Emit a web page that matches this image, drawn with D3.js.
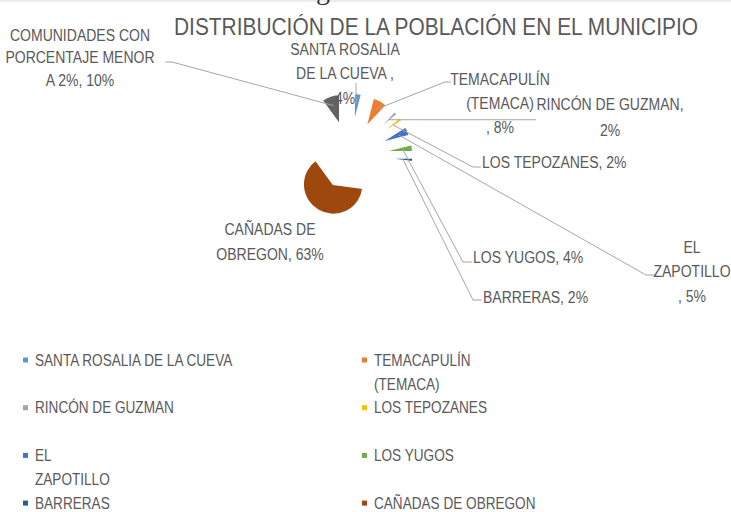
<!DOCTYPE html>
<html>
<head>
<meta charset="utf-8">
<script src="https://cdn.jsdelivr.net/npm/d3@7"></script>
<style>
  body { margin: 0; background: #fff; }
  svg text { font-family: "Liberation Sans", Arial, sans-serif; fill: #595959; }
</style>
</head>
<body>
<div id="pie"></div>
<script>
// data
var categories = [
  "SANTA ROSALIA DE LA CUEVA",
  "TEMACAPULÍN (TEMACA)",
  "RINCÓN DE GUZMAN",
  "LOS TEPOZANES",
  "EL ZAPOTILLO",
  "LOS YUGOS",
  "BARRERAS",
  "CAÑADAS DE OBREGON",
  "COMUNIDADES CON PORCENTAJE MENOR A 2%"
];
var values = [4, 8, 2, 2, 5, 4, 2, 63, 10];
var colors = ["#5b9bd5", "#ed7d31", "#a5a5a5", "#ffc000", "#4472c4", "#70ad47", "#255e91", "#9e480e", "#636363"];

// data label lines (as the chart wraps them)
var labelLines = [
  ["SANTA ROSALIA", "DE LA CUEVA ,", "4%"],
  ["TEMACAPULÍN", "(TEMACA)", ", 8%"],
  ["RINCÓN DE GUZMAN,", "2%"],
  ["LOS TEPOZANES, 2%"],
  ["EL", "ZAPOTILLO", ", 5%"],
  ["LOS YUGOS, 4%"],
  ["BARRERAS, 2%"],
  ["CAÑADAS DE", "OBREGON, 63%"],
  ["COMUNIDADES CON", "PORCENTAJE MENOR", "A 2%, 10%"]
];

// legend entries (wrapped like the picture)
var legendLines = [
  ["SANTA ROSALIA DE LA CUEVA"],
  ["TEMACAPULÍN", "(TEMACA)"],
  ["RINCÓN DE GUZMAN"],
  ["LOS TEPOZANES"],
  ["EL", "ZAPOTILLO"],
  ["LOS YUGOS"],
  ["BARRERAS"],
  ["CAÑADAS DE OBREGON"]
];

var svgWidth = 731;
var svgHeight = 512;
// no narrow font installed, so squeeze the text sideways
var squeeze = 0.85;

var svg = d3
  .select("#pie")
  .append("svg")
  .attr("width", svgWidth)
  .attr("height", svgHeight);

// one line of condensed text
function addText(parent, x, y, str, size, anchor) {
  return parent.append("text")
    .attr("transform", "translate(" + x + "," + y + ") scale(" + squeeze + ",1)")
    .attr("dy", "0.35em")
    .attr("text-anchor", anchor || "start")
    .style("font-size", size + "px")
    .text(str);
}

// strip of the page above the chart
svg.append("rect").attr("x", 0).attr("y", 0).attr("width", svgWidth).attr("height", 2).attr("fill", "#ececec");
svg.append("text")
  .attr("x", 316).attr("y", -1)
  .style("font-family", "Liberation Serif, serif")
  .style("font-size", "28px")
  .style("fill", "#333")
  .text("g");

// title
addText(svg, 436, 26, "DISTRIBUCIÓN DE LA POBLACIÓN EN EL MUNICIPIO", 24.6, "middle");

// pie geometry
var cx = 350, cy = 156;
var radius = 30;
var explode = 33;

var pie = d3.pie().sort(null).value(function (d) { return d; });
var arcs = pie(values);
var arc = d3.arc().innerRadius(0).outerRadius(radius);

function dirOf(a) {
  var mid = (a.startAngle + a.endAngle) / 2;
  return [Math.sin(mid), -Math.cos(mid)];
}

var chartGroup = svg.append("g").attr("transform", "translate(" + cx + "," + cy + ")");

chartGroup
  .selectAll("path.slice")
  .data(arcs)
  .enter()
  .append("path")
  .attr("class", "slice")
  .attr("transform", function (d) {
    var v = dirOf(d);
    return "translate(" + v[0] * explode + "," + v[1] * explode + ")";
  })
  .attr("d", arc)
  .attr("fill", function (d, i) { return colors[i]; })
  .attr("stroke", "#fff")
  .attr("stroke-width", 1.5);

// leader line bends and label anchors (absolute page coords)
var leaderBends = [
  [[356, 83]],
  [[445, 82], [451, 82]],
  [[536, "same"]],
  [[473, 167], [481, 167]],
  [[646, 275], [655, 275]],
  [[463, 262], [472, 262]],
  [[473, 300], [482, 300]],
  null,
  [[172, 62], [165, 62]]
];

var lineGen = d3.line();
arcs.forEach(function (a, i) {
  if (!leaderBends[i]) return;
  var v = dirOf(a);
  var r0 = explode + 20;
  var start = [cx + v[0] * r0, cy + v[1] * r0];
  var pts = [start].concat(leaderBends[i].map(function (p) {
    return [p[0], p[1] === "same" ? start[1] : p[1]];
  }));
  if (i === 0) start[0] = pts[1][0];
  svg.append("path")
    .attr("d", lineGen(pts))
    .attr("fill", "none")
    .attr("stroke", "#a6a6a6")
    .attr("stroke-width", 1);
});

// data labels: [x, first line y, anchor, line step]
var labelPos = [
  [345, 49, "middle", 24.5],
  [500, 79, "middle", 24],
  [610, 104, "middle", 26],
  [482, 162, "start", 24],
  [692, 247, "middle", 24.5],
  [473, 257, "start", 24],
  [483, 297, "start", 24],
  [270, 229, "middle", 25],
  [80, 35, "middle", 22.5]
];

labelLines.forEach(function (lines, i) {
  var p = labelPos[i];
  lines.forEach(function (ln, j) {
    addText(svg, p[0], p[1] + j * p[3], ln, 16.5, p[2]);
  });
});

// legend, two columns
var legendCols = [23, 362];
var legendY0 = 360;
var legendStep = 47.7;
var legend = svg.append("g");

legendLines.forEach(function (lines, i) {
  var col = i % 2;
  var row = Math.floor(i / 2);
  var x = legendCols[col];
  var y = legendY0 + row * legendStep;
  legend.append("rect")
    .attr("x", x)
    .attr("y", y - 2.5)
    .attr("width", 5)
    .attr("height", 5)
    .attr("fill", colors[i]);
  lines.forEach(function (ln, j) {
    addText(legend, x + 12, y + j * 24, ln, 16);
  });
});
</script>
</body>
</html>
